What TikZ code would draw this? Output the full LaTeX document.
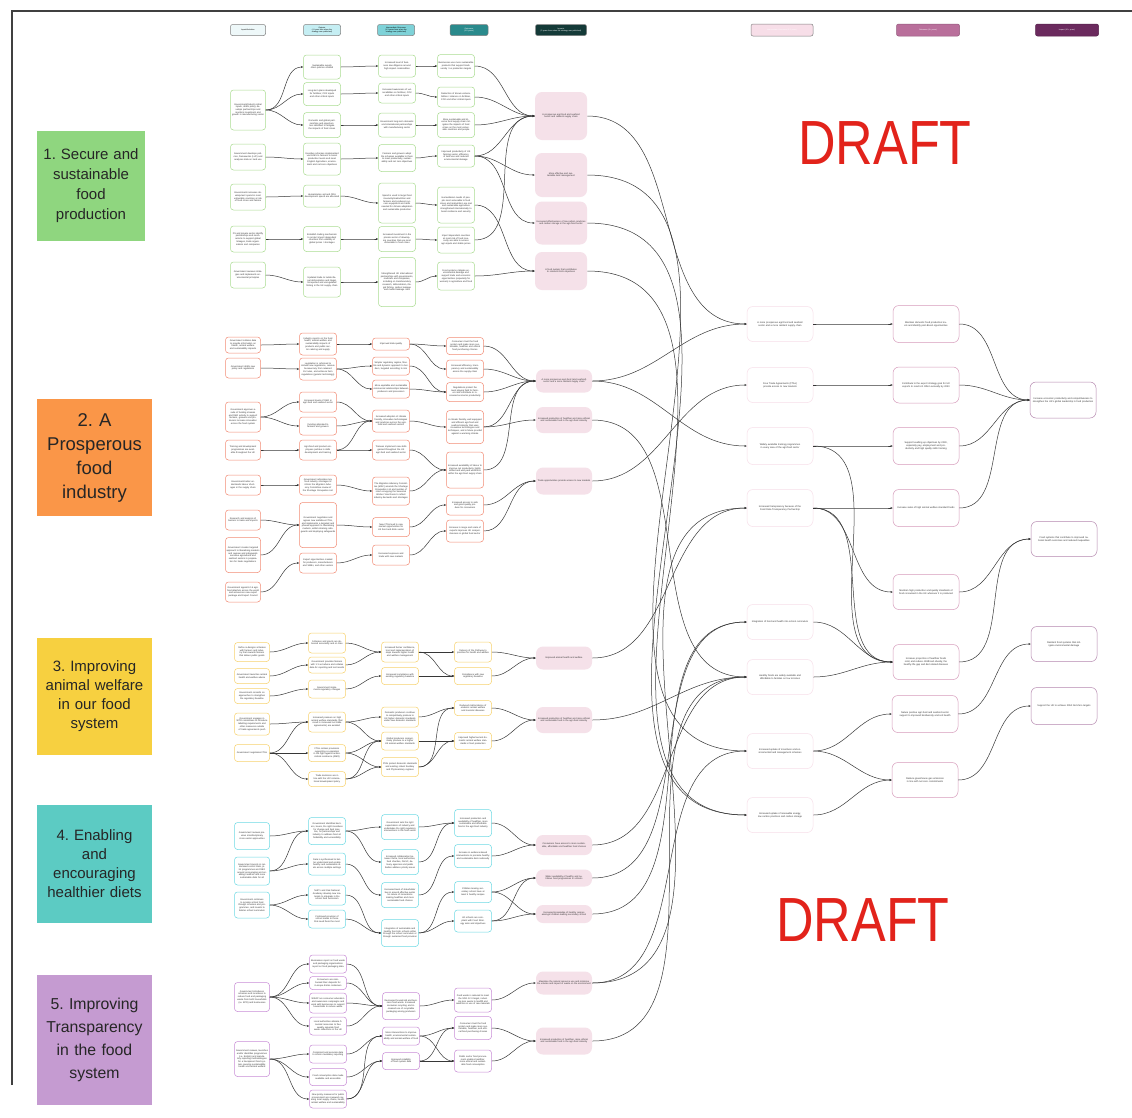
\documentclass[tikz,border=0pt]{standalone}
\usepackage{fontspec}
\setmainfont{Liberation Sans}
\usetikzlibrary{arrows.meta}
\frenchspacing
\newlength{\du}
\setlength{\du}{1pt}
\definecolor{secgreen}{RGB}{143,214,127}
\definecolor{secorange}{RGB}{250,150,72}
\definecolor{secyellow}{RGB}{247,208,64}
\definecolor{secteal}{RGB}{92,203,195}
\definecolor{secpurple}{RGB}{197,155,209}
\definecolor{bdgreen}{RGB}{170,220,145}
\definecolor{bdorange}{RGB}{242,140,118}
\definecolor{bdyellow}{RGB}{247,210,110}
\definecolor{bdteal}{RGB}{110,218,228}
\definecolor{bdpurple}{RGB}{200,140,214}
\definecolor{impactpink}{RGB}{245,225,233}
\definecolor{faintpink}{RGB}{247,222,232}
\definecolor{midpink}{RGB}{214,154,186}
\definecolor{deeppink}{RGB}{180,135,174}
\definecolor{linegrey}{RGB}{55,55,55}
\definecolor{txtgrey}{RGB}{50,50,50}
\definecolor{draftred}{RGB}{226,35,27}
\definecolor{headpale}{RGB}{238,248,249}
\definecolor{headlight}{RGB}{197,238,243}
\definecolor{headmid}{RGB}{126,210,216}
\definecolor{headteal}{RGB}{42,138,140}
\definecolor{headdark}{RGB}{20,58,56}
\definecolor{headrose}{RGB}{185,111,155}
\definecolor{headplum}{RGB}{107,42,94}
\tikzset{
  box/.style={draw, rounded corners=3\du, line width=0.5\du, fill=white, align=center,
    inner sep=1\du, minimum height=20\du, text=txtgrey, font=\fontsize{2.3}{2.7}\selectfont},
  hh/.style={minimum height=#1\du},
  colA/.style={box, text width=33\du},
  colB/.style={box, text width=35\du},
  gr/.style={draw=bdgreen}, og/.style={draw=bdorange}, yl/.style={draw=bdyellow},
  tl/.style={draw=bdteal}, pu/.style={draw=bdpurple},
  pinkbox/.style={box, draw=none, fill=impactpink, rounded corners=7\du, text width=54\du},
  farbox/.style={box, rounded corners=6\du, text width=62\du, inner sep=2\du, font=\fontsize{2.4}{2.9}\selectfont},
  headbox/.style={draw=gray, rounded corners=2\du, line width=0.5\du, align=center, inner sep=0.5\du,
    minimum height=11\du, font=\fontsize{1.9}{2.3}\selectfont},
  seclabel/.style={align=center, inner sep=0pt, text=black!85},
  flow/.style={draw=linegrey, line width=0.5\du, -{Stealth[length=2.4pt,width=2pt]}, out=0, in=180}
}
\begin{document}
\begin{tikzpicture}
\pgftransformxscale{1.000000}
\pgftransformyscale{-1.000000}
\useasboundingbox (0\du,0\du) rectangle (1132\du,1117\du);
\fill[white] (0\du,0\du) rectangle (1132\du,1117\du);
\draw[line width=1.2\du, black!75] (12\du,1085\du) -- (12\du,11\du) -- (1132\du,11\du);

% headers
\node[headbox, fill=headpale, minimum width=35\du, text width=33\du] (hd1) at (248\du,30\du) {Inputs/Activities};
\node[headbox, fill=headlight, minimum width=37\du, text width=35\du] (hd2) at (322\du,30\du) {Outputs\\(<1 year from when the strategy was published)};
\node[headbox, fill=headmid, minimum width=37\du, text width=35\du] (hd3) at (396\du,30\du) {Intermediate Outcomes\\(1-3 years from when the strategy was published)};
\node[headbox, fill=headteal, text=white, minimum width=38\du, text width=36\du] (hd4) at (469\du,30\du) {Outcomes\\(3-5 years)};
\node[headbox, fill=headdark, text=white, minimum width=51\du, text width=49\du] (hd5) at (561\du,30\du) {Impacts\\(5 years from when the strategy was published)};
\node[headbox, fill=faintpink, text=white, minimum width=62\du, text width=60\du, minimum height=12\du] (hd6) at (782\du,30\du) {Intermediate Outcomes (3-5 years)};
\node[headbox, fill=headrose, draw=headrose!80!black, text=white, minimum width=63\du, text width=61\du, minimum height=12\du] (hd7) at (928\du,30\du) {Outcomes (8+ years)};
\node[headbox, fill=headplum, draw=headplum!80!black, text=white, minimum width=63\du, text width=61\du, minimum height=12\du] (hd8) at (1067\du,30\du) {Impact (10+ years)};

% section labels
\node[seclabel, fill=secgreen, minimum width=108\du, minimum height=110\du, text width=100\du, font=\fontsize{15}{20}\selectfont] (lab1) at (91\du,186\du) {1. Secure and\\sustainable\\food\\production};
\node[seclabel, fill=secorange, minimum width=115\du, minimum height=117\du, text width=108\du, font=\fontsize{18.5}{24}\selectfont] (lab2) at (94.5\du,457.5\du) {2. A\\Prosperous\\food\\industry};
\node[seclabel, fill=secyellow, minimum width=115\du, minimum height=117\du, text width=108\du, font=\fontsize{15}{19}\selectfont] (lab3) at (94.5\du,696.5\du) {3. Improving\\animal welfare\\in our food\\system};
\node[seclabel, fill=secteal, minimum width=115\du, minimum height=118\du, text width=108\du, font=\fontsize{15}{19}\selectfont] (lab4) at (94.5\du,864\du) {4. Enabling\\and\\encouraging\\healthier diets};
\node[seclabel, fill=secpurple, minimum width=115\du, minimum height=130\du, text width=108\du, font=\fontsize{15.8}{23}\selectfont] (lab5) at (94.5\du,1040\du) {5. Improving\\Transparency\\in the food\\system};

% section 1
\node[colA, gr, hh=40] (s1a1) at (248\du,110\du) {Government/industry initial inputs, drafts policy, develops partnerships and monitors investment and growth in manufacturing sector};
\node[colA, gr, hh=26] (s1a2) at (248\du,157\du) {Government develops policies, frameworks (LUF) and analyses data on land use};
\node[colA, gr, hh=26] (s1a3) at (248\du,197\du) {Government increases development spend in most vulnerable countries at risk of food crises and famine};
\node[colA, gr, hh=26] (s1a4) at (248\du,239\du) {FS and private sector identify partnerships and mechanisms to support global linkages, trade organisations and companies};
\node[colA, gr, hh=26] (s1a5) at (248\du,275\du) {Government reviews strategies and implements environmental principles};
\node[colB, gr, hh=24] (s1b1) at (322\du,67\du) {Sustainable supply chain policies created};
\node[colB, gr, hh=23] (s1b2) at (322\du,94\du) {Long-term plans developed for fertiliser, CO2 inputs and other critical inputs};
\node[colB, gr, hh=25] (s1b3) at (322\du,125\du) {Domestic and global partnerships and opportunities identified to mitigate the impacts of food crises};
\node[colB, gr, hh=32] (s1b4) at (322\du,159\du) {Incentive schemes implemented via ELMS to farmers to boost production levels and meet English Agriculture, environment and net zero objectives};
\node[colB, gr, hh=22] (s1b5) at (322\du,196\du) {Humanitarian aid and ODA development spend are allocated};
\node[colB, gr, hh=25] (s1b6) at (322\du,239\du) {Establish trading mechanism to protect import dependent countries from volatility of global prices / shortages};
\node[colB, gr, hh=30] (s1b7) at (322\du,282\du) {Updated trade to tackle illegal deforestation and illegal, unreported and unregulated fishing in the UK supply chain};
\node[colB, gr, hh=22] (s1c1) at (397\du,66\du) {Increased level of business due diligence around high impact commodities};
\node[colB, gr, hh=20] (s1c2) at (397\du,93\du) {Increased awareness of vulnerabilities on fertiliser, CO2 and other critical inputs};
\node[colB, gr, hh=24] (s1c3) at (397\du,125\du) {Government long-term domestic and international partnerships with manufacturing sector};
\node[colB, gr, hh=27] (s1c4) at (397\du,158\du) {Farmers and growers adopt the schemes available to them to meet productivity, sustainability and net zero objectives};
\node[colB, gr, hh=40] (s1c5) at (397\du,203\du) {Spend is used to target food insecurity/malnutrition and farmers and producers access equipment and skills needed for climate adaptation and sustainable production};
\node[colB, gr, hh=25] (s1c6) at (397\du,239\du) {Increased investment in the private sector of developing countries that are most vulnerable to food crises};
\node[colB, gr, hh=49] (s1c7) at (397\du,282\du) {Strengthened UK international partnerships with governments, multi-lats and companies, including on transboundary research, deforestation, illegal fishing, carbon leakage and market leakage risks};
\node[colB, gr, hh=23] (s1d1) at (456\du,66\du) {Businesses use more sustainable products that support biodiversity / no production targets};
\node[colB, gr, hh=20] (s1d2) at (456\du,97\du) {Reduction of known vulnerabilities / reliance on fertiliser, CO2 and other critical inputs};
\node[colB, gr, hh=25] (s1d3) at (456\du,125\du) {More sustainable and diverse food supply chain mitigates the impacts of food crises on the most vulnerable countries and people};
\node[colB, gr, hh=22] (s1d4) at (456\du,156\du) {Improved productivity of UK farming sector, efficiency of land use and reduced environmental damage};
\node[colB, gr, hh=36] (s1d5) at (456\du,205\du) {Humanitarian needs of people most vulnerable to food crises and malnutrition are met and sustainable agriculture strengthened internationally to boost resilience and security};
\node[colB, gr, hh=26] (s1d6) at (456\du,240\du) {Import dependent countries at most risk of food insecurity are able to access agri-inputs and stable prices};
\node[colB, gr, hh=28] (s1d7) at (456\du,276\du) {Food systems mitigate environmental damage and support trade and economic opportunities (especially for women) in agriculture and food};
\node[pinkbox, text width=50\du, hh=48] (s1e1) at (561\du,116\du) {A prosperous agri-food and seafood sector and resilient supply chain};
\node[pinkbox, text width=50\du, hh=44] (s1e2) at (561\du,175\du) {More effective and sustainable land management};
\node[pinkbox, text width=50\du, hh=43] (s1e3) at (561\du,223\du) {Increased effectiveness of low carbon practices and carbon storage in the agri-food sector};
\node[pinkbox, text width=50\du, hh=38] (s1e4) at (561\du,271\du) {A food system that contributes to relevant GHG objectives};

\draw[flow] (s1a1.east) to (s1b1.west);
\draw[flow] (s1a1.east) to (s1b2.west);
\draw[flow] (s1a1.east) to (s1b3.west);
\draw[flow] (s1b1.east) to (s1c1.west);
\draw[flow] (s1b2.east) to (s1c2.west);
\draw[flow] (s1b3.east) to (s1c3.west);
\draw[flow] (s1c1.east) to (s1d1.west);
\draw[flow] (s1c2.east) to (s1d2.west);
\draw[flow] (s1c3.east) to (s1d3.west);
\draw[flow] (s1a2.east) to (s1b4.west);
\draw[flow] (s1b4.east) to (s1c4.west);
\draw[flow] (s1c4.east) to (s1d4.west);
\draw[flow] (s1a3.east) to (s1b5.west);
\draw[flow] (s1b5.east) to (s1c5.west);
\draw[flow] (s1c5.east) to (s1d5.west);
\draw[flow] (s1a4.east) to (s1b6.west);
\draw[flow] (s1b6.east) to (s1c6.west);
\draw[flow] (s1c6.east) to (s1d6.west);
\draw[flow] (s1a5.east) to (s1b7.west);
\draw[flow] (s1b7.east) to (s1c7.west);
\draw[flow] (s1c7.east) to (s1d7.west);
\draw[flow] (s1d1.east) to (s1e1.west);
\draw[flow] (s1d2.east) to (s1e1.west);
\draw[flow] (s1d3.east) to (s1e1.west);
\draw[flow] (s1d4.east) to (s1e1.west);
\draw[flow] (s1d4.east) to (s1e2.west);
\draw[flow] (s1d4.east) to (s1e3.west);
\draw[flow] (s1d5.east) to (s1e4.west);
\draw[flow] (s1d6.east) to (s1e1.west);
\draw[flow] (s1d7.east) to (s1e4.west);

% section 2
\node[colA, og, hh=16] (s2a1) at (243\du,345\du) {Government collates data to provide information on health, animal welfare and sustainability impacts};
\node[colA, og, hh=20] (s2a2) at (243\du,368\du) {Government drafts new policy and regulations};
\node[colA, og, hh=30] (s2a3) at (243\du,417\du) {Government approves a suite of funding streams and R\&D activity to support farmers, growers and producers increase innovation across the food system};
\node[colA, og, hh=20] (s2a4) at (243\du,450\du) {Training and development programmes are available throughout the UK};
\node[colA, og, hh=20] (s2a5) at (243\du,485\du) {Government better understands labour shortages in the supply chain};
\node[colA, og, hh=20] (s2a6) at (243\du,520\du) {Research and analysis of barriers to trade and imports};
\node[colA, og, hh=35] (s2a7) at (243\du,555\du) {Government creates targeted approach to liberalising markets and reviews and safeguards sensitive agricultural and seafood sectors in preparation for trade negotiations};
\node[colA, og, hh=20] (s2a8) at (243\du,592\du) {Government appoints 16 agri-food attach\'es across the world and announces new export package and Export Council};
\node[colB, og, hh=22] (s2b1) at (318\du,344\du) {Industry reports on the food health, animal welfare and sustainability impacts of products and public sector catering and supply};
\node[colB, og, hh=22] (s2b2) at (318\du,369\du) {Legislation is reformed to include new regulations, remove bureaucracy from retained EU rules, and enhance farm regulations (genetic technology)};
\node[colB, og, hh=20] (s2b3) at (318\du,402\du) {Increased levels of R\&D in agri-food and seafood sector};
\node[colB, og, hh=18] (s2b4) at (318\du,426\du) {Funding allocated to farmers and growers};
\node[colB, og, hh=20] (s2b5) at (318\du,450\du) {Agri-food and product employees partake in skills development and training};
\node[colB, og, hh=20] (s2b6) at (318\du,485\du) {Government articulates key food industry shortages to inform the Migration Advisory Committee review of the Shortage Occupation List};
\node[colB, og, hh=45] (s2b7) at (318\du,525\du) {Government negotiates and agrees new ambitious FTAs, and implements a targeted and phased approach to liberalising markets, whilst retaining safeguards and deploying safeguards};
\node[colB, og, hh=20] (s2b8) at (318\du,563\du) {Export opportunities created for producers, manufacturers and SMEs, and other sectors};
\node[colB, og, hh=12] (s2c1) at (391\du,344\du) {Improved data quality};
\node[colB, og, hh=18] (s2c2) at (391\du,366\du) {Simpler regulatory regime, flexible and dynamic approach to borders, targeted according to risk};
\node[colB, og, hh=18] (s2c3) at (391\du,389\du) {More equitable and sustainable commercial relationships between producers and processors};
\node[colB, og, hh=22] (s2c4) at (391\du,421\du) {Increased adoption of climate friendly, innovative technologies and practices across the agri-food and seafood sectors};
\node[colB, og, hh=20] (s2c5) at (391\du,450\du) {Trainees implement new skills gained throughout the UK agri-food and seafood sector};
\node[colB, og, hh=28] (s2c6) at (391\du,491\du) {The Migration Advisory Committee (MAC) amends the Shortage Occupation List and number of roles occupying the Seasonal Worker Visa Route to reflect industry demands and shortages};
\node[colB, og, hh=19] (s2c7) at (391\du,527\du) {New FTAs lead to new market opportunities for UK food and drink sector};
\node[colB, og, hh=20] (s2c8) at (391\du,555\du) {Increased exposure and trade with new markets};
\node[colB, og, hh=17] (s2d1) at (465\du,346\du) {Consumers trust the food system and make more sustainable, healthier and ethical food purchasing choices};
\node[colB, og, hh=18] (s2d2) at (465\du,369\du) {Increased efficiency, transparency and sustainability across the supply chain};
\node[colB, og, hh=19] (s2d3) at (465\du,392\du) {Regulations protect the level playing field for farmers and contribute to increased economic productivity};
\node[colB, og, hh=33] (s2d4) at (465\du,427\du) {A climate friendly, well equipped and efficient agri-food and seafood industry that uses innovative technologies and techniques, and is future proofed against a warming climate};
\node[colB, og, hh=36] (s2d5) at (465\du,470\du) {Increased availability of labour to improve net productivity, highly skilled and well paid workforce within the agri-food supply chain};
\node[colB, og, hh=20] (s2d6) at (465\du,505\du) {Increased access to safe and good quality produce for consumers};
\node[colB, og, hh=22] (s2d7) at (465\du,531\du) {Increase in range and scale of exports improves UK competitiveness in global food sector};
\node[pinkbox, hh=23] (s2e1) at (564\du,381\du) {A more prosperous agri-food (and seafood) sector and a more resilient supply chain};
\node[pinkbox, hh=26] (s2e2) at (564\du,420\du) {Increased production of healthier and more ethical and sustainable food in the agri-food industry};
\node[pinkbox, hh=27] (s2e3) at (564\du,481\du) {Trade opportunities provide access to new markets};

\draw[flow] (s2a1.east) to (s2b1.west);
\draw[flow] (s2b1.east) to (s2c1.west);
\draw[flow] (s2c1.east) to (s2d1.west);
\draw[flow] (s2c1.east) to (s2d2.west);
\draw[flow] (s2a2.east) to (s2b2.west);
\draw[flow] (s2b2.east) to (s2c2.west);
\draw[flow] (s2b2.east) to (s2c3.west);
\draw[flow] (s2c2.east) to (s2d3.west);
\draw[flow] (s2c3.east) to (s2d3.west);
\draw[flow] (s2a3.east) to (s2b3.west);
\draw[flow] (s2a3.east) to (s2b4.west);
\draw[flow] (s2b3.east) to (s2c4.west);
\draw[flow] (s2b4.east) to (s2c4.west);
\draw[flow] (s2a4.east) to (s2b5.west);
\draw[flow] (s2b5.east) to (s2c4.west);
\draw[flow] (s2b5.east) to (s2c5.west);
\draw[flow] (s2c4.east) to (s2d4.west);
\draw[flow] (s2c5.east) to (s2d5.west);
\draw[flow] (s2a5.east) to (s2b6.west);
\draw[flow] (s2b6.east) to (s2c6.west);
\draw[flow] (s2c6.east) to (s2d5.west);
\draw[flow] (s2a6.east) to (s2b7.west);
\draw[flow] (s2a7.east) to (s2b7.west);
\draw[flow] (s2a8.east) to (s2b8.west);
\draw[flow] (s2b7.east) to (s2c7.west);
\draw[flow] (s2b8.east) to (s2c8.west);
\draw[flow] (s2c7.east) to (s2d6.west);
\draw[flow] (s2c8.east) to (s2d7.west);
\draw[flow] (s2d1.east) to (s2e1.west);
\draw[flow] (s2d2.east) to (s2e1.west);
\draw[flow] (s2d3.east) to (s2e1.west);
\draw[flow] (s2d4.east) to (s2e1.west);
\draw[flow] (s2d4.east) to (s2e2.west);
\draw[flow] (s2d5.east) to (s2e1.west);
\draw[flow] (s2d6.east) to (s2e3.west);
\draw[flow] (s2d7.east) to (s2e3.west);

% section 3
\node[colA, yl, hh=19] (s3a1) at (252\du,652\du) {Defra co-designs schemes with farmers and industry that rewards farmers that deliver public goods};
\node[colA, yl, hh=15] (s3a2) at (252\du,676\du) {Government launches animal health and welfare advice};
\node[colA, yl, hh=15] (s3a3) at (252\du,696\du) {Government consults on approaches to strengthen the regulatory baseline};
\node[colA, yl, hh=22] (s3a4) at (252\du,724\du) {Government engages in WTO committees to introduce labelling requirements and other measures outside of trade agreements push};
\node[colA, yl, hh=17] (s3a5) at (252\du,753\du) {Government negotiates FTAs};
\node[colB, yl, hh=20] (s3b1) at (327\du,643\du) {Schemes and grants are delivered accurately and on time};
\node[colB, yl, hh=16] (s3b2) at (327\du,665\du) {Government provides farmers with 1:1 vet advice and collates data for reporting and test results};
\node[colB, yl, hh=18] (s3b3) at (327\du,689\du) {Government implements regulatory changes};
\node[colB, yl, hh=20] (s3b4) at (327\du,722\du) {Increased pressure on high animal welfare standards (that result in increased net trade agreements) are avoided};
\node[colB, yl, hh=17] (s3b5) at (327\du,753\du) {FTAs contain provisions supporting co-operation in the fight against antimicrobial resistance (AMR)};
\node[colB, yl, hh=15] (s3b6) at (327\du,779\du) {Trade decisions are in line with the UK's international development policy};
\node[colB, yl, hh=20] (s3c1) at (400\du,652\du) {Increased farmer confidence, trust and implementation of steps towards higher health and welfare management};
\node[colB, yl, hh=17] (s3c2) at (400\du,676\du) {Increased compliance with existing regulatory baseline};
\node[colB, yl, hh=20] (s3c3) at (400\du,717\du) {Domestic producers continue to competitively produce to UK higher domestic standards under new domestic standards};
\node[colB, yl, hh=18] (s3c4) at (400\du,741\du) {Global producers competitively produce to a higher UK animal welfare standards};
\node[colB, yl, hh=19] (s3c5) at (400\du,767\du) {FTAs protect domestic standards and existing robust Sanitary and Phytosanitary regimes};
\node[colB, yl, hh=20] (s3d1) at (473\du,652\du) {Delivery of the Pathway to priorities for health and welfare};
\node[colB, yl, hh=17] (s3d2) at (473\du,676\du) {Compliance with new regulatory baseline};
\node[colB, yl, hh=15] (s3d3) at (473\du,708\du) {Reduced risk/incidence of endemic animal welfare and zoonotic diseases};
\node[colB, yl, hh=17] (s3d4) at (473\du,741\du) {Improved higher/current domestic animal welfare standards in food production};
\node[pinkbox, hh=23] (s3e1) at (564\du,658\du) {Improved animal health and welfare};
\node[pinkbox, hh=26] (s3e2) at (564\du,720\du) {Increased production of healthier and more ethical and sustainable food in the agri-food industry};

\draw[flow] (s3a1.east) to (s3b1.west);
\draw[flow] (s3a2.east) to (s3b2.west);
\draw[flow] (s3a3.east) to (s3b3.west);
\draw[flow] (s3b1.east) to (s3c1.west);
\draw[flow] (s3b2.east) to (s3c1.west);
\draw[flow] (s3b3.east) to (s3c2.west);
\draw[flow] (s3c1.east) to (s3d1.west);
\draw[flow] (s3c1.east) to (s3d2.west);
\draw[flow] (s3c2.east) to (s3d2.west);
\draw[flow] (s3d1.east) to (s3e1.west);
\draw[flow] (s3d2.east) to (s3e1.west);
\draw[flow] (s3a4.east) to (s3b4.west);
\draw[flow] (s3a5.east) to (s3b4.west);
\draw[flow] (s3a5.east) to (s3b5.west);
\draw[flow] (s3a5.east) to (s3b6.west);
\draw[flow] (s3b4.east) to (s3c3.west);
\draw[flow] (s3b4.east) to (s3c4.west);
\draw[flow] (s3b5.east) to (s3c4.west);
\draw[flow] (s3b5.east) to (s3c5.west);
\draw[flow] (s3b6.east) to (s3c4.west);
\draw[flow] (s3b6.east) to (s3c5.west);
\draw[flow] (s3c3.east) to (s3d3.west);
\draw[flow] (s3c4.east) to (s3d4.west);
\draw[flow] (s3c5.east) to (s3d3.west);
\draw[flow] (s3c5.east) to (s3d4.west);
\draw[flow] (s3d3.east) to (s3e2.west);
\draw[flow] (s3d4.east) to (s3e2.west);

% section 4
\node[colA, tl, hh=27] (s4a1) at (252\du,836\du) {Government reviews previous interdisciplinary cross-sector approaches};
\node[colA, tl, hh=28] (s4a2) at (252\du,871\du) {Government invests in randomised control trials, pilot programmes and R\&D around encouraging and enabling healthier and more sustainable diets for all};
\node[colA, tl, hh=26] (s4a3) at (252\du,905\du) {Government continues to provide school food through schemes and programmes, and invests to bolster school curriculum};
\node[colB, tl, hh=27] (s4b1) at (327\du,831\du) {Government identifies barriers, levers, the right incentives for change and best practice, for partnerships and industry to address food affordability and accessibility};
\node[colB, tl, hh=22] (s4b2) at (327\du,864\du) {Data is synthesised to better understand and enable healthy and sustainable diets across multiple settings};
\node[colB, tl, hh=20] (s4b3) at (327\du,895\du) {NHP's and Oak National Academy develop new materials to integrate in the school food curriculum};
\node[colB, tl, hh=18] (s4b4) at (327\du,919\du) {Continued provision of school meals to those that need them the most};
\node[colB, tl, hh=25] (s4c1) at (400\du,827\du) {Government sets the right expectations of industry and undertakes the right regulatory interventions in the food sector};
\node[colB, tl, hh=25] (s4c2) at (400\du,862\du) {Increased collaboration between Defra, local authorities, food charities, DHSC, delivery agencies and public bodies address priority areas};
\node[colB, tl, hh=25] (s4c3) at (400\du,895\du) {Increased level of stakeholder buy-in around effective works on nature of innovations making healthier and more sustainable food choices};
\node[colB, tl, hh=27] (s4c4) at (400\du,933\du) {Integration of sustainable and healthy food into schools either through the school curriculum or through sustained food provision};
\node[colB, tl, hh=27] (s4d1) at (473\du,823\du) {Increased production and availability of healthier, more sustainable and affordable food in the agri-food industry};
\node[colB, tl, hh=23] (s4d2) at (473\du,856\du) {Increase in evidence-based interventions to promote healthy and sustainable diets nationally};
\node[colB, tl, hh=21] (s4d3) at (473\du,892\du) {Children leaving secondary school have at least 5 healthy recipes};
\node[colB, tl, hh=22] (s4d4) at (473\du,921\du) {All schools are compliant with Food Strategy aims and objectives};
\node[pinkbox, hh=20] (s4e1) at (564\du,845\du) {Consumers have access to more sustainable, affordable and healthier food choices};
\node[pinkbox, hh=17] (s4e2) at (564\du,878\du) {Wider availability of healthy and nutritious food programmes in schools};
\node[pinkbox, hh=18] (s4e3) at (564\du,914\du) {Increased knowledge of healthy recipes amongst children leaving secondary school};

\draw[flow] (s4a1.east) to (s4b1.west);
\draw[flow] (s4a2.east) to (s4b1.west);
\draw[flow] (s4a2.east) to (s4b2.west);
\draw[flow] (s4a3.east) to (s4b3.west);
\draw[flow] (s4a3.east) to (s4b4.west);
\draw[flow] (s4b1.east) to (s4c1.west);
\draw[flow] (s4b1.east) to (s4c2.west);
\draw[flow] (s4b2.east) to (s4c3.west);
\draw[flow] (s4b3.east) to (s4c4.west);
\draw[flow] (s4b4.east) to (s4c4.west);
\draw[flow] (s4c1.east) to (s4d1.west);
\draw[flow] (s4c2.east) to (s4d1.west);
\draw[flow] (s4c3.east) to (s4d2.west);
\draw[flow] (s4c4.east) to (s4d3.west);
\draw[flow] (s4c4.east) to (s4d4.west);
\draw[flow] (s4d1.east) to (s4e1.west);
\draw[flow] (s4d2.east) to (s4e1.west);
\draw[flow] (s4d3.east) to (s4e2.west);
\draw[flow] (s4d3.east) to (s4e3.west);
\draw[flow] (s4d4.east) to (s4e2.west);
\draw[flow] (s4d4.east) to (s4e3.west);

% section 5
\node[colA, pu, hh=29] (s5a1) at (252\du,997\du) {Government introduces schemes and incentives to reduce food and packaging waste from both households (i.e. EPR) and businesses};
\node[colA, pu, hh=35] (s5a2) at (252\du,1059\du) {Government reviews, launches and/or identifies programmes (i.e. EcoMo) and mandatory reporting methodologies for a transparent food system covering sustainability, health and animal welfare};
\node[colB, pu, hh=18] (s5b1) at (328\du,964\du) {Businesses report on food waste and packaging organisations report on food packaging data};
\node[colB, pu, hh=13] (s5b2) at (328\du,983\du) {Consumers are reimbursed their deposits for in-scope drinks containers};
\node[colB, pu, hh=20] (s5b3) at (328\du,1003\du) {WRAP run consumer education and awareness campaigns and work with businesses to support households to reduce waste};
\node[colB, pu, hh=18] (s5b4) at (328\du,1026\du) {Local authorities allocate financial resources to free weekly separate food waste collections in the UK};
\node[colB, pu, hh=18] (s5b5) at (328\du,1054\du) {Consistent and accurate data to inform mandatory reporting};
\node[colB, pu, hh=17] (s5b6) at (328\du,1077\du) {Food consumption data made available and accessible};
\node[colB, pu, hh=18] (s5b7) at (328\du,1099\du) {New policy measures for public procurement are reviewed covering local supply chains, health, animal welfare and sustainability};
\node[colB, pu, hh=27] (s5c1) at (401\du,1006\du) {Decreased household and business food waste. Increased consumer recycling and increased use of recyclable packaging among producers};
\node[colB, pu, hh=18] (s5c2) at (401\du,1036\du) {More interventions to improve health, environmental sustainability and animal welfare of food};
\node[colB, pu, hh=17] (s5c3) at (401\du,1061\du) {Improved reliability of food system data};
\node[colB, pu, hh=24] (s5d1) at (473\du,1000\du) {Food waste is reduced to meet the SDG 12.3 target, including less waste to landfill and reduction in use of raw materials};
\node[colB, pu, hh=23] (s5d2) at (473\du,1028\du) {Consumers trust the food system and make more sustainable, healthier, and ethical food purchasing choices};
\node[colB, pu, hh=22] (s5d3) at (473\du,1061\du) {Public sector food procurement enables healthier, more ethical and sustainable food consumption};
\node[pinkbox, hh=23] (s5e1) at (564\du,983\du) {Maximise the natural resource use and minimise the volume and impact of waste on the environment};
\node[pinkbox, hh=27] (s5e2) at (564\du,1041\du) {Increased production of healthier, more ethical and sustainable food in the agri-food industry};

\draw[flow] (s5a1.east) to (s5b1.west);
\draw[flow] (s5a1.east) to (s5b2.west);
\draw[flow] (s5a1.east) to (s5b3.west);
\draw[flow] (s5a1.east) to (s5b4.west);
\draw[flow] (s5b1.east) to (s5c1.west);
\draw[flow] (s5b2.east) to (s5c1.west);
\draw[flow] (s5b3.east) to (s5c1.west);
\draw[flow] (s5b4.east) to (s5c1.west);
\draw[flow] (s5c1.east) to (s5d1.west);
\draw[flow] (s5d1.east) to (s5e1.west);
\draw[flow] (s5a2.east) to (s5b5.west);
\draw[flow] (s5a2.east) to (s5b6.west);
\draw[flow] (s5a2.east) to (s5b7.west);
\draw[flow] (s5b5.east) to (s5c2.west);
\draw[flow] (s5b6.east) to (s5c3.west);
\draw[flow] (s5b7.east) to (s5c2.west);
\draw[flow] (s5b7.east) to (s5c3.west);
\draw[flow] (s5c2.east) to (s5d2.west);
\draw[flow] (s5c2.east) to (s5d3.west);
\draw[flow] (s5c3.east) to (s5d2.west);
\draw[flow] (s5c3.east) to (s5d3.west);
\draw[flow] (s5d2.east) to (s5e2.west);
\draw[flow] (s5d3.east) to (s5e2.west);

% longer term outcomes and impacts
\node[farbox, draw=faintpink, hh=35] (f1) at (780\du,324\du) {A more prosperous agri-food and seafood sector and a more resilient supply chain};
\node[farbox, draw=faintpink, hh=35] (f2) at (780\du,385\du) {Free Trade Agreements (FTAs) provide access to new markets};
\node[farbox, draw=faintpink, hh=37] (f3) at (780\du,446\du) {Widely available training programmes in every area of the agri-food sector};
\node[farbox, draw=faintpink, hh=37] (f4) at (780\du,508\du) {Increased transparency because of the Food Data Transparency Partnership};
\node[farbox, draw=faintpink, hh=35] (f5) at (780\du,622\du) {Integration of food and health into school curriculum};
\node[farbox, draw=faintpink, hh=35] (f6) at (780\du,677\du) {Healthy foods are widely available and affordable to families on low incomes};
\node[farbox, draw=faintpink, hh=35] (f7) at (780\du,751\du) {Increased uptake of incentives and environmental land management schemes};
\node[farbox, draw=faintpink, hh=35] (f8) at (780\du,815\du) {Increased uptake of renewable energy, low carbon practices and carbon storage};
\node[farbox, draw=midpink, hh=37] (g1) at (926\du,324\du) {Maintain domestic food production levels and identify post-Brexit opportunities};
\node[farbox, draw=midpink, hh=36] (g2) at (926\du,385\du) {Contribute to the export strategy goal for UK exports to reach \pounds1 trillion annually by 2030};
\node[farbox, draw=midpink, hh=37] (g3) at (926\du,446\du) {Support levelling up objectives by 2030, especially pay, employment and productivity and high quality skills training};
\node[farbox, draw=midpink, hh=37] (g4) at (926\du,508\du) {Increase sales of high animal welfare standard foods};
\node[farbox, draw=midpink, hh=35] (g5) at (926\du,592\du) {Maintain high production and quality standards of food consumed in the UK wherever it is produced};
\node[farbox, draw=midpink, hh=35] (g6) at (926\du,662\du) {Increase proportion of healthier foods sold, and reduce childhood obesity, the healthy life gap and diet related diseases};
\node[farbox, draw=midpink, hh=37] (g7) at (925\du,714\du) {Nature positive agri-food and seafood sector support to improved biodiversity and soil health};
\node[farbox, draw=midpink, hh=35] (g8) at (925\du,780\du) {Reduce greenhouse gas emissions in line with net zero commitments};
\node[farbox, draw=deeppink, hh=36] (h1) at (1063\du,400\du) {Increase economic productivity and competitiveness to strengthen the UK's global leadership in food production};
\node[farbox, draw=deeppink, hh=35] (h2) at (1064\du,539\du) {Food systems that contribute to improved national health outcomes and reduced inequalities};
\node[farbox, draw=deeppink, hh=35] (h3) at (1064\du,644\du) {Resilient food systems that mitigate environmental damage};
\node[farbox, draw=deeppink, hh=37] (h4) at (1064\du,706\du) {Support the UK to achieve 2050 Net Zero targets};

\draw[flow] (s1e1.east) to (f1.west);
\draw[flow] (s1e2.east) to (f7.west);
\draw[flow] (s1e3.east) to (f8.west);
\draw[flow] (s1e4.east) to (f8.west);
\draw[flow] (s2e1.east) to (f1.west);
\draw[flow] (s2e1.east) to (f3.west);
\draw[flow] (s2e2.east) to (f6.west);
\draw[flow] (s2e3.east) to (f2.west);
\draw[flow] (s3e1.east) to (f4.west);
\draw[flow] (s3e2.east) to (f6.west);
\draw[flow] (s4e1.east) to (f6.west);
\draw[flow] (s4e2.east) to (f5.west);
\draw[flow] (s4e3.east) to (f5.west);
\draw[flow] (s5e1.east) to (f4.west);
\draw[flow] (s5e1.east) to (f7.west);
\draw[flow] (s5e2.east) to (f6.west);
\draw[flow] (f1.east) to (g1.west);
\draw[flow] (f2.east) to (g2.west);
\draw[flow] (f3.east) to (g3.west);
\draw[flow] (f3.east) to (g6.west);
\draw[flow] (f4.east) to (g4.west);
\draw[flow] (f4.east) to (g5.west);
\draw[flow] (f4.east) to (g6.west);
\draw[flow] (f5.east) to (g6.west);
\draw[flow] (f6.east) to (g6.west);
\draw[flow] (f7.east) to (g7.west);
\draw[flow] (f7.east) to (g8.west);
\draw[flow] (f8.east) to (g8.west);
\draw[flow] (g1.east) to (h1.west);
\draw[flow] (g2.east) to (h1.west);
\draw[flow] (g3.east) to (h1.west);
\draw[flow] (g4.east) to (h1.west);
\draw[flow] (g5.east) to (h2.west);
\draw[flow] (g6.east) to (h2.west);
\draw[flow] (g7.east) to (h3.west);
\draw[flow] (g8.east) to (h4.west);

% watermarks
\node[text=draftred, font=\fontsize{52}{52}\selectfont, inner sep=0pt] (draft1) at (885\du,143\du) {\scalebox{1}[1.2]{DRAFT}};
\node[text=draftred, font=\fontsize{52}{52}\selectfont, inner sep=0pt] (draft2) at (863\du,920\du) {\scalebox{1}[1.2]{DRAFT}};
\end{tikzpicture}
\end{document}
